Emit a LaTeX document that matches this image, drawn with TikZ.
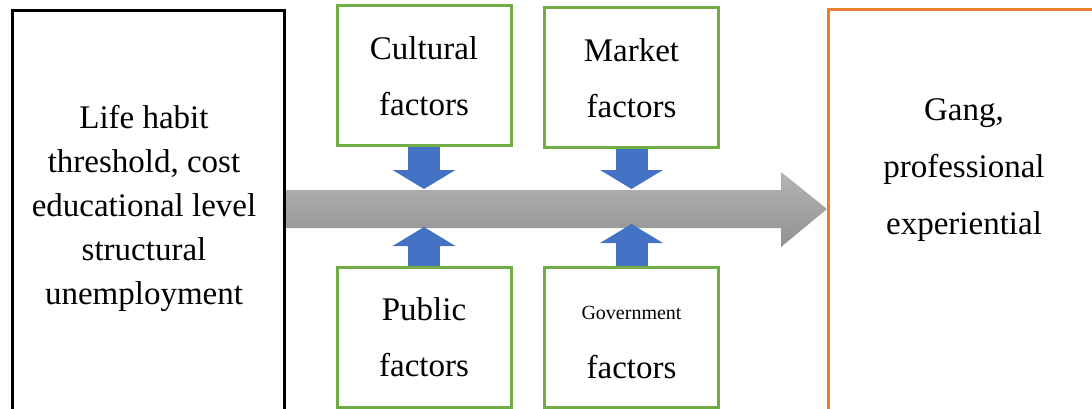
\documentclass[tikz,border=0pt]{standalone}
\usepackage{fontspec}
\setmainfont{Liberation Serif}
\usepackage{tikz}
\usetikzlibrary{arrows.meta}
\usetikzlibrary{positioning}

\definecolor{boxgreen}{HTML}{70AD47}
\definecolor{boxorange}{HTML}{ED7D31}
\definecolor{arrowblue}{HTML}{4472C4}
\definecolor{arrowtop}{HTML}{B4B4B4}
\definecolor{arrowbot}{HTML}{929292}

\tikzset{
  factorbox/.style={draw=boxgreen, line width=3pt, minimum width=174pt,
    minimum height=140pt, inner sep=0pt, align=center,
    font=\fontsize{33}{56}\selectfont},
  bigbox/.style={line width=3pt, inner sep=0pt, anchor=north west},
  boxtext/.style={inner sep=0pt, align=center},
  pusharrow/.style={arrowblue, line width=32pt,
    -{Triangle[width=62pt,length=19pt]}},
  mainarrow/.style={top color=arrowtop, bottom color=arrowbot}
}

\begin{document}
\begin{tikzpicture}[x=1pt,y=-1pt]
  \useasboundingbox (0,0) rectangle (1092,409);
  % outer boxes
  \node[bigbox, draw=black, minimum width=272pt, minimum height=420pt] (habit) at (11,9) {};
  \node[boxtext, font=\fontsize{33}{44}\selectfont] (habittxt) at (144,208)
    {Life habit\\threshold, cost\\educational level\\structural\\unemployment};
  \node[bigbox, draw=boxorange, minimum width=300pt, minimum height=420pt] (gang) at (827,8) {};
  \node[boxtext, font=\fontsize{33}{57}\selectfont] (gangtxt) at (964,170)
    {Gang,\\professional\\experiential};
  % factor boxes
  \node[factorbox] (cultural) at (424,76) {Cultural\\factors};
  \node[factorbox] (market) at (631.5,78) {Market\\factors};
  \node[factorbox] (public) at (424,337) {Public\\factors};
  \node[factorbox] (govt) at (631.5,337)
    {{\fontsize{20}{20}\selectfont\rule{0pt}{25pt}Government}\\[3pt]factors};
  % big arrow
  \coordinate (headbase) at ([xshift=-46pt]gang.west);
  \shade[mainarrow] (habit.east |- 0,190) -- (headbase |- 0,190)
    -- (headbase |- 0,172) -- (gang.west |- 0,209) -- (headbase |- 0,247)
    -- (headbase |- 0,228) -- (habit.east |- 0,228) -- cycle;
  \draw[pusharrow] (cultural.south) -- (cultural.south |- 0,189);
  \draw[pusharrow] (market.south) -- (market.south |- 0,189);
  \draw[pusharrow] (public.north) -- (public.north |- 0,227);
  \draw[pusharrow] (govt.north) -- (govt.north |- 0,224);
\end{tikzpicture}
\end{document}
